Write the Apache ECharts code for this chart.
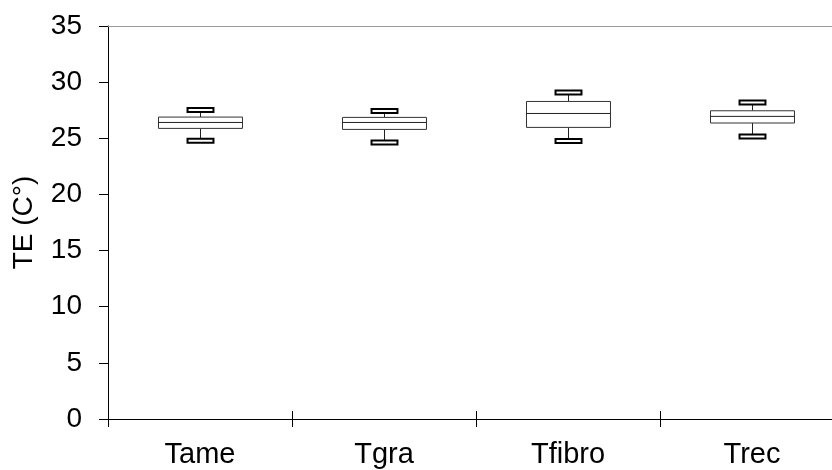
<!DOCTYPE html>
<html>
<head>
<meta charset="utf-8">
<script src="https://cdn.jsdelivr.net/npm/echarts@6/dist/echarts.min.js"></script>
<style>html,body{margin:0;padding:0;background:#fff;overflow:hidden}#c{width:844px;height:470px}</style>
</head>
<body>
<div id="c"></div>
<script>
const categories = ['Tame', 'Tgra', 'Tfibro', 'Trec'];
const minVals    = [24.77, 24.62, 24.76, 25.16];
const q1Vals     = [25.88, 25.79, 25.97, 26.36];
const medianVals = [26.41, 26.41, 27.21, 26.95];
const q3Vals     = [26.89, 26.86, 28.28, 27.45];
const maxVals    = [27.52, 27.43, 29.08, 28.18];
const yTicks = [0, 5, 10, 15, 20, 25, 30, 35];

const data = categories.map((c, i) => [i, minVals[i], q1Vals[i], medianVals[i], q3Vals[i], maxVals[i]]);

const chart = echarts.init(document.getElementById('c'), null, {renderer: 'canvas', width: 844, height: 470});
const font = 'Liberation Sans, Arial, sans-serif';

function renderItem(params, api) {
  const i = api.value(0);
  const band = api.size([1, 0])[0];
  const boxW = band * 0.4565;
  const capW = band * 0.141;
  const pMin = api.coord([i, api.value(1)]);
  const pQ1 = api.coord([i, api.value(2)]);
  const pMed = api.coord([i, api.value(3)]);
  const pQ3 = api.coord([i, api.value(4)]);
  const pMax = api.coord([i, api.value(5)]);
  const cx = Math.round(pMed[0]) + 0.5;
  const lineStyle = {stroke: '#222', lineWidth: 1};
  return {
    type: 'group',
    children: [
      {type: 'line', shape: {x1: cx, y1: pQ3[1], x2: cx, y2: pMax[1]}, style: lineStyle},
      {type: 'line', shape: {x1: cx, y1: pQ1[1], x2: cx, y2: pMin[1]}, style: lineStyle},
      {type: 'rect', shape: {x: cx - boxW / 2, y: pQ3[1], width: boxW, height: pQ1[1] - pQ3[1]},
        style: {fill: '#fff', stroke: '#333', lineWidth: 1}},
      {type: 'line', shape: {x1: cx - boxW / 2, y1: pMed[1], x2: cx + boxW / 2, y2: pMed[1]}, style: lineStyle},
      {type: 'rect', shape: {x: cx - capW / 2, y: pMax[1] - 2, width: capW, height: 4},
        style: {fill: '#fff', stroke: '#000', lineWidth: 2}},
      {type: 'rect', shape: {x: cx - capW / 2, y: pMin[1] - 2, width: capW, height: 4},
        style: {fill: '#fff', stroke: '#000', lineWidth: 2}}
    ]
  };
}

chart.setOption({
  animation: false,
  backgroundColor: '#fff',
  grid: {left: 108, top: 26, right: 0, bottom: 51, containLabel: false},
  xAxis: [
    {
      type: 'category', data: categories, position: 'bottom',
      axisLine: {show: true, lineStyle: {color: '#000', width: 1}},
      axisTick: {show: true, length: 8, lineStyle: {color: '#000'}},
      axisLabel: {color: '#000', fontSize: 29, fontFamily: font, margin: 21},
      splitLine: {show: false}
    },
    {
      type: 'category', data: categories, position: 'bottom',
      axisLine: {show: false},
      axisTick: {show: true, inside: true, length: 8, lineStyle: {color: '#000'}},
      axisLabel: {show: false},
      splitLine: {show: false}
    },
    {
      type: 'category', data: categories, position: 'top',
      axisLine: {show: true, lineStyle: {color: '#999', width: 1}},
      axisTick: {show: false}, axisLabel: {show: false}, splitLine: {show: false}
    }
  ],
  yAxis: {
    type: 'value', min: yTicks[0], max: yTicks[yTicks.length - 1], interval: 5,
    name: 'TE (C°)', nameLocation: 'middle', nameGap: 70,
    nameTextStyle: {color: '#000', fontSize: 28, fontFamily: font},
    axisLine: {show: true, lineStyle: {color: '#000', width: 1}},
    axisTick: {show: true, length: 9, lineStyle: {color: '#000'}},
    axisLabel: {color: '#000', fontSize: 28, fontFamily: font, margin: 26},
    splitLine: {show: false}
  },
  series: [{
    type: 'custom',
    xAxisIndex: 0,
    renderItem: renderItem,
    encode: {x: 0, y: [1, 2, 3, 4, 5]},
    data: data
  }]
});
</script>
</body>
</html>
